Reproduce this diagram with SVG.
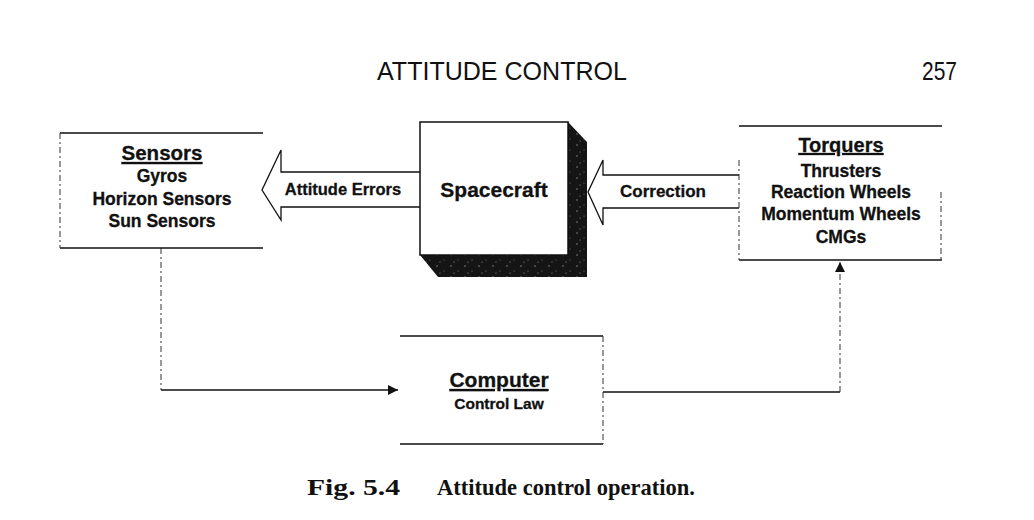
<svg xmlns="http://www.w3.org/2000/svg" width="1034" height="520" viewBox="0 0 1034 520">
<style>
.t{font-family:"Liberation Sans",Arial,sans-serif;font-weight:bold;fill:#111;text-anchor:middle;stroke:#111;stroke-width:0.3}
.hd{font-family:"Liberation Sans",Arial,sans-serif;fill:#111}
.cap{font-family:"Liberation Serif","Times New Roman",serif;font-weight:bold;fill:#111}
.edge{stroke:#111;stroke-width:1.5;fill:none}
.dash{stroke:#333;stroke-width:1;fill:none;stroke-dasharray:6 3 2 3}
.conn{stroke:#111;stroke-width:1.3;fill:none}
.blk{stroke:#111;stroke-width:1.3;fill:#fff}
</style>
<defs>
<marker id="ah" viewBox="0 0 10 10" refX="10" refY="5" markerWidth="10" markerHeight="10" markerUnits="userSpaceOnUse" orient="auto">
<path d="M0,0 L10,5 L0,10 Z" fill="#111"/>
</marker>
<pattern id="spk" width="14" height="11" patternUnits="userSpaceOnUse">
<rect width="14" height="11" fill="#151515"/>
<circle cx="3" cy="2" r="0.7" fill="#999"/>
<circle cx="10" cy="7" r="0.6" fill="#777"/>
<circle cx="6" cy="9" r="0.5" fill="#aaa"/>
</pattern>
</defs>
<rect width="1034" height="520" fill="#fff"/>

<g id="header">
<text class="hd" x="377" y="80" font-size="26" textLength="250" lengthAdjust="spacingAndGlyphs">ATTITUDE CONTROL</text>
<text class="hd" x="922" y="80" font-size="26" textLength="35" lengthAdjust="spacingAndGlyphs">257</text>
</g>

<g id="connectors">
<!-- Attitude Errors block arrow -->
<path class="blk" d="M420,172 L281,172 L281,150 L262,190 L281,220 L281,207 L420,207"/>
<!-- Correction block arrow -->
<path class="blk" d="M739,175 L603,175 L603,160 L588,192 L603,225 L603,208 L739,208"/>
<!-- Sensors to Computer -->
<path class="dash" d="M161,248 L161,390"/>
<path class="conn" d="M161,390 L398,390" marker-end="url(#ah)"/>
<!-- Computer to Torquers -->
<path class="conn" d="M603,392 L840,392"/>
<path class="dash" d="M840,392 L840,262" marker-end="url(#ah)"/>
</g>

<g id="label-attitude-errors">
<text class="t" x="343" y="195" font-size="16.5">Attitude Errors</text>
</g>
<g id="label-correction">
<text class="t" x="663" y="197" font-size="17">Correction</text>
</g>

<g id="sensors">
<path class="edge" d="M60,133 L263,133 M60,248 L263,248"/>
<path class="dash" d="M60,133 L60,248"/>
<text class="t" x="162" y="160" font-size="20.5" text-decoration="underline">Sensors</text>
<text class="t" x="162" y="182" font-size="17.5">Gyros</text>
<text class="t" x="162" y="205" font-size="17.5">Horizon Sensors</text>
<text class="t" x="162" y="227" font-size="17.5">Sun Sensors</text>
</g>

<g id="spacecraft">
<path d="M568,122 L587,142 L587,277 L438,277 L420,255 L568,255 Z" fill="url(#spk)"/>
<rect x="420" y="122" width="148" height="133" fill="#fff" stroke="#111" stroke-width="1.5"/>
<text class="t" x="494" y="197" font-size="21">Spacecraft</text>
</g>

<g id="torquers">
<path class="edge" d="M739,126 L942,126 M739,260 L942,260"/>
<path class="dash" d="M739,160 L739,260 M941,192 L941,260"/>
<text class="t" x="841" y="152" font-size="20" text-decoration="underline">Torquers</text>
<text class="t" x="841" y="177" font-size="17.5">Thrusters</text>
<text class="t" x="841" y="198" font-size="17.5">Reaction Wheels</text>
<text class="t" x="841" y="220" font-size="17.5">Momentum Wheels</text>
<text class="t" x="841" y="243" font-size="17.5">CMGs</text>
</g>

<g id="computer">
<path class="edge" d="M400,336 L603,336 M400,444 L603,444"/>
<path class="dash" d="M603,336 L603,444"/>
<text class="t" x="499" y="387" font-size="21" text-decoration="underline">Computer</text>
<text class="t" x="499" y="409" font-size="15.5">Control Law</text>
</g>

<g id="caption">
<text class="cap" x="307" y="495" font-size="23" textLength="93" lengthAdjust="spacingAndGlyphs">Fig. 5.4</text>
<text class="cap" x="437" y="495" font-size="23" textLength="258" lengthAdjust="spacingAndGlyphs">Attitude control operation.</text>
</g>
</svg>
